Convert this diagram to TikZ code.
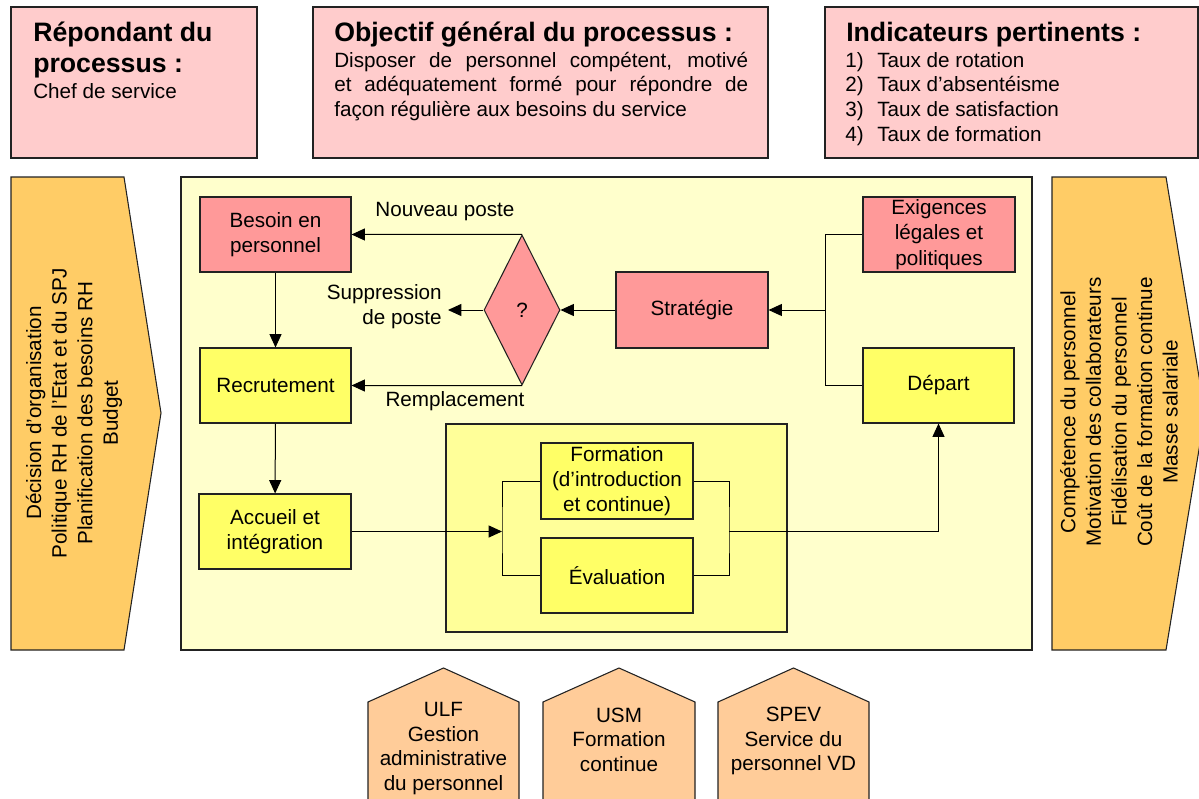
\documentclass[tikz,border=0pt]{standalone}
\usepackage{fontspec}
\setmainfont{Liberation Sans}
\usetikzlibrary{arrows.meta,fit,shapes.geometric}

\definecolor{infopink}{HTML}{FFCCCC}
\definecolor{stepred}{HTML}{FF9999}
\definecolor{stepyellow}{HTML}{FFFF66}
\definecolor{processbg}{HTML}{FFFFCC}
\definecolor{groupbg}{HTML}{FFFF99}
\definecolor{flowarrow}{HTML}{FFCC66}
\definecolor{partner}{HTML}{FFCC99}
\definecolor{edge}{HTML}{222222}

\begin{document}
\begin{tikzpicture}[x=0.75pt,y=-0.75pt,
  frame/.style={draw=edge, line width=0.8pt},
  infobox/.style={frame, fill=infopink, inner sep=0pt},
  boxsize/.style 2 args={minimum width=#1*0.75pt, minimum height=#2*0.75pt},
  stepbox/.style={frame, inner sep=0pt, align=center, font=\stepfont, boxsize={151}{75}},
  redstep/.style={stepbox, fill=stepred},
  yellowstep/.style={stepbox, fill=stepyellow},
  titletext/.style={inner sep=0pt, align=left, font=\titlefont},
  bodytext/.style={inner sep=0pt, align=left, font=\bodyfont},
  sidetext/.style={inner sep=0pt, align=center, rotate=90, font=\sidefont},
  flowline/.style={draw=black, line width=0.75pt},
  arr/.style={flowline, -{Triangle[length=10pt,width=9pt]}},
  lbl/.style={inner sep=0pt, font=\bodyfont}
]
\def\titlefont{\fontsize{20}{23.3}\bfseries\selectfont}
\def\bodyfont{\fontsize{15.5}{18.4}\selectfont}
\def\stepfont{\fontsize{15.5}{19}\selectfont}
\def\sidefont{\fontsize{15.5}{19.2}\selectfont}

\clip (0,0) rectangle (1199,799);
\fill[white] (0,0) rectangle (1199,799);

% ---- header boxes (multi-line texts are anchored on their last baseline) ----
\node[infobox, fit={(11,7) (257,158)}] (resp) {};
\node[titletext, anchor=base west] (resptitle) at (33,72.7) {Répondant du\\processus :};
\node[bodytext, anchor=base west] (respbody) at (33,98.5) {Chef de service};

\node[infobox, fit={(313,7) (768,158)}] (goal) {};
\node[titletext, anchor=base west] (goaltitle) at (334,41.7) {Objectif général du processus :};
\node[bodytext, anchor=base west] (goalbody) at (334,116.5)
  {\makebox[310.5pt][s]{Disposer de personnel compétent, motivé}\\
   \makebox[310.5pt][s]{et adéquatement formé pour répondre de}\\
   façon régulière aux besoins du service};

\node[infobox, fit={(825,7) (1198,158)}] (ind) {};
\node[titletext, anchor=base west] (indtitle) at (846,41.7) {Indicateurs pertinents :};
\node[bodytext, anchor=base west] (indbody) at (845,141)
  {\makebox[24pt][l]{1)}Taux de rotation\\
   \makebox[24pt][l]{2)}Taux d’absentéisme\\
   \makebox[24pt][l]{3)}Taux de satisfaction\\
   \makebox[24pt][l]{4)}Taux de formation};

% ---- input and output arrows ----
\draw[frame, fill=flowarrow] (11,177) -- (124,177) -- (161,413) -- (124,650) -- (11,650) -- cycle;
\node[sidetext] (inputs) at (74,413)
  {Décision d’organisation\\Politique RH de l’Etat et du SPJ\\Planification des besoins RH\\Budget};

\draw[frame, fill=flowarrow] (1052,177) -- (1166,177) -- (1205,413) -- (1166,650) -- (1052,650) -- cycle;
\node[sidetext] (outputs) at (1119,412)
  {Compétence du personnel\\Motivation des collaborateurs\\Fidélisation du personnel\\Coût de la formation continue\\Masse salariale};

% ---- process area ----
\node[frame, fill=processbg, inner sep=0pt, fit={(181,177) (1032,650)}] (process) {};
\node[frame, fill=groupbg, inner sep=0pt, fit={(446,424) (787,632)}] (group) {};

\node[redstep] (need) at (275.5,234.5) {Besoin en\\personnel};
\node[yellowstep] (recruit) at (275.5,385.5) {Recrutement};
\node[yellowstep, boxsize={152}{75}] (welcome) at (275,531.5) {Accueil et\\intégration};
\node[redstep, boxsize={152}{76}] (strategy) at (692,310) {Stratégie};
\node[redstep, boxsize={152}{75}] (legal) at (939,234.5) {Exigences\\légales et\\politiques};
\node[yellowstep] (leave) at (938.5,385.5) {Départ};
\node[yellowstep, boxsize={152}{76}] (training) at (617,481) {Formation\\(d’introduction\\et continue)};
\node[yellowstep, boxsize={152}{75}] (review) at (617,575.5) {Évaluation};

\node[frame, fill=stepred, shape=diamond, inner sep=0pt,
      minimum width=76*0.75pt, minimum height=150*0.75pt, font=\bodyfont] (decide) at (522,310) {?};

% ---- connectors ----
\draw[arr] (need) -- (recruit);
\draw[arr] (recruit) -- (welcome);
\draw[arr] (decide.north) -- (need.east);
\draw[arr] (decide.south) -- (recruit.east);
\coordinate (cut) at (448,310);
\draw[arr] (decide.west) -- (cut);
\draw[arr] (strategy.west) -- (decide.east);

\coordinate (join) at (825,310);
\draw[flowline] (legal.west) -| (join) |- (leave.west);
\draw[arr] (join) -- (strategy.east);

\coordinate (fork) at (502,531.5);
\coordinate (merge) at (729,531.5);
\draw[flowline] (training.west) -| (fork) |- (review.west);
\draw[flowline] (training.east) -| (merge) |- (review.east);
\draw[arr] (welcome.east) -- (fork);
\draw[arr] (merge) -| (leave.south);

% ---- branch labels ----
\node[lbl] (newpost) at (445,212) {Nouveau poste};
\node[lbl, anchor=east] (cutpost) at (442,307) {\begin{tabular}{@{}r@{}}Suppression\\de poste\end{tabular}};
\node[lbl] (replace) at (455,401) {Remplacement};

% ---- partner services ----
\draw[frame, fill=partner] (368,805) -- (368,702) -- (443.5,668) -- (519,702) -- (519,805) -- cycle;
\node[bodytext, align=center] (ulf) at (443.5,748.5) {ULF\\Gestion\\administrative\\du personnel};
\draw[frame, fill=partner] (543,805) -- (543,702) -- (619,668) -- (695,702) -- (695,805) -- cycle;
\node[bodytext, align=center] (usm) at (619,739.5) {USM\\Formation\\continue};
\draw[frame, fill=partner] (718,805) -- (718,702) -- (793.5,668) -- (869,702) -- (869,805) -- cycle;
\node[bodytext, align=center] (spev) at (793.5,741) {SPEV\\Service du\\personnel VD};
\end{tikzpicture}
\end{document}
